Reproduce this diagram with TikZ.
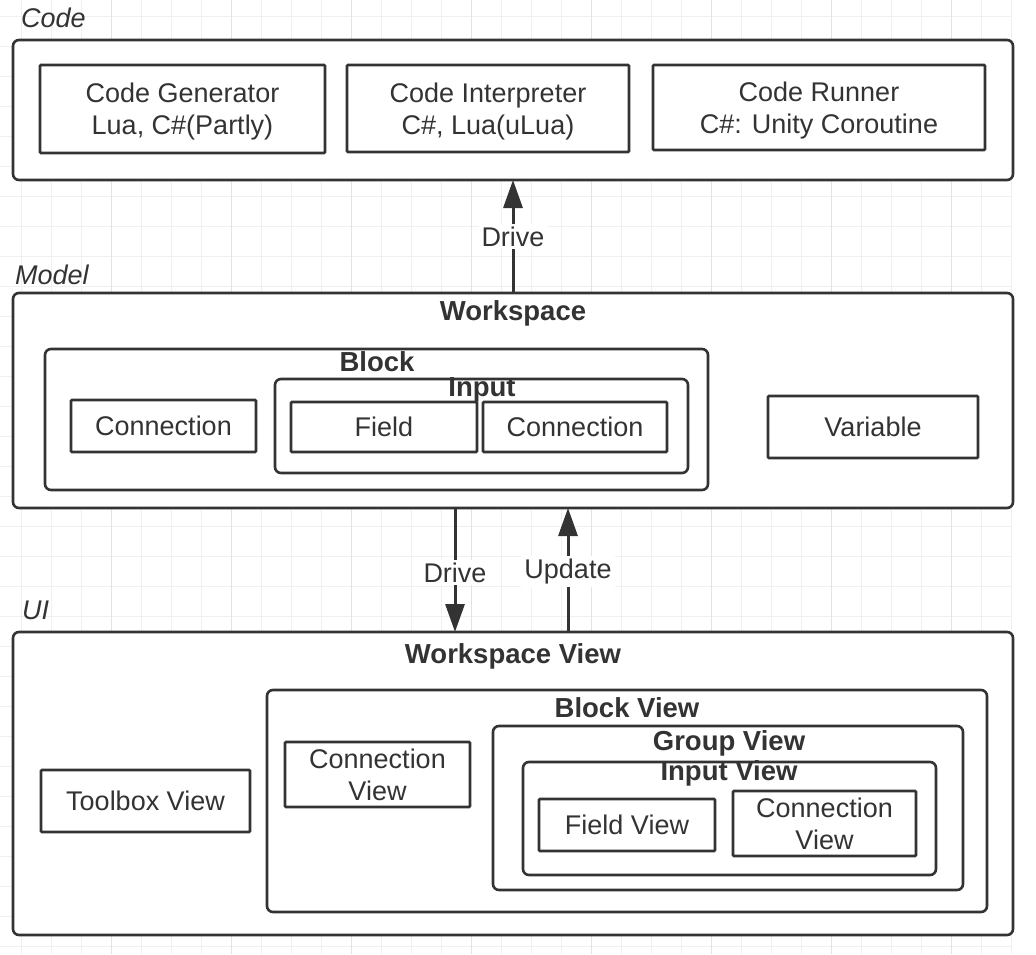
\documentclass[tikz,border=0pt]{standalone}
\usepackage{fontspec}
\setmainfont{Liberation Sans}
\usetikzlibrary{arrows.meta}
\definecolor{ink}{HTML}{333333}
\definecolor{gridminor}{HTML}{F0F0F0}
\definecolor{gridmajor}{HTML}{E3E3E3}
\tikzset{
  cont/.style={draw=ink, line width=2.6pt, fill=white, rounded corners=6pt, inner sep=0pt, outer sep=0pt, anchor=north west},
  leaf/.style={draw=ink, line width=2.6pt, fill=white, rounded corners=1pt, inner sep=0pt, outer sep=0pt, anchor=north west, align=center, text=ink, text depth=0pt, font=\fontsize{27}{32}\selectfont},
  title/.style={text=ink, font=\bfseries\fontsize{27.5}{30}\selectfont, inner sep=0pt, text depth=0pt},
  group/.style={text=ink, font=\itshape\fontsize{27}{30}\selectfont, inner sep=0pt, anchor=west},
  arr/.style={draw=ink, line width=3pt, -{Triangle[length=28pt, width=19pt]}},
  lbl/.style={fill=white, text=ink, font=\fontsize{27}{30}\selectfont, inner sep=3pt},
}
\begin{document}
\begin{tikzpicture}[x=1pt,y=-1pt]
\useasboundingbox (0,0) rectangle (1036,954);
\fill[white] (0,0) rectangle (1036,954);
% grid
\foreach \gx in {21.7,51.7,...,1012} {\draw[gridminor, line width=1pt] (\gx,0) -- (\gx,954);}
\foreach \gy in {16.7,46.7,...,954} {\draw[gridminor, line width=1pt] (0,\gy) -- (1012,\gy);}
\foreach \gx in {111.7,231.7,...,1012} {\draw[gridmajor, line width=1pt] (\gx,0) -- (\gx,954);}

% ---- Code ----
\node[group] (codelbl) at (21,18) {Code};
\node[cont, minimum width=1000pt, minimum height=140pt] (code) at (13,40) {};
\node[leaf, minimum width=285pt, minimum height=88pt] (gen) at (40,65) {Code Generator\\Lua, C\#(Partly)};
\node[leaf, minimum width=282pt, minimum height=87pt] (interp) at (347,65) {Code Interpreter\\C\#, Lua(uLua)};
\node[leaf, minimum width=332pt, minimum height=85pt] (runner) at (653,65) {Code Runner\\C\#: Unity Coroutine};

% ---- Model ----
\node[group] (modellbl) at (15,275) {Model};
\node[cont, minimum width=1000pt, minimum height=215pt] (model) at (13,293) {};
\node[title] (wstitle) at (513,311) {Workspace};
\node[cont, minimum width=663pt, minimum height=141pt] (block) at (45,349) {};
\node[title] (blocktitle) at (377,362) {Block};
\node[leaf, minimum width=185pt, minimum height=52pt] (conn1) at (71,400) {Connection};
\node[cont, minimum width=413pt, minimum height=94pt] (input) at (275,379) {};
\node[title] (inputtitle) at (482,387) {Input};
\node[leaf, minimum width=186pt, minimum height=50pt] (field) at (291,402) {Field};
\node[leaf, minimum width=184pt, minimum height=50pt] (conn2) at (483,402) {Connection};
\node[leaf, minimum width=210pt, minimum height=62pt] (var) at (768,396) {Variable};

% ---- UI ----
\node[group] (uilbl) at (22,610) {UI};
\node[cont, minimum width=1000pt, minimum height=303pt] (ui) at (13,632) {};
\node[title] (wvtitle) at (513,654) {Workspace View};
\node[leaf, minimum width=209pt, minimum height=62pt] (toolbox) at (41,770) {Toolbox View};
\node[cont, minimum width=720pt, minimum height=222pt] (bview) at (267,690) {};
\node[title] (bvtitle) at (627,708) {Block View};
\node[leaf, minimum width=185pt, minimum height=65pt] (cview1) at (285,742) {Connection\\View};
\node[cont, minimum width=470pt, minimum height=164pt] (gview) at (493,726) {};
\node[title] (gvtitle) at (729,741) {Group View};
\node[cont, minimum width=413pt, minimum height=113pt] (iview) at (523,762) {};
\node[title] (ivtitle) at (729,771) {Input View};
\node[leaf, minimum width=176pt, minimum height=52pt] (fview) at (539,799) {Field View};
\node[leaf, minimum width=183pt, minimum height=65pt] (cview2) at (733,791) {Connection\\View};

% ---- connectors ----
\draw[arr] (model.north) -- node[lbl] {Drive} (code.south);
\draw[arr] ([xshift=-58pt]model.south) -- node[lbl, pos=0.52] {Drive} ([xshift=-58pt]ui.north);
\draw[arr] ([xshift=55pt]ui.north) -- node[lbl, pos=0.49] {Update} ([xshift=55pt]model.south);
\end{tikzpicture}
\end{document}
